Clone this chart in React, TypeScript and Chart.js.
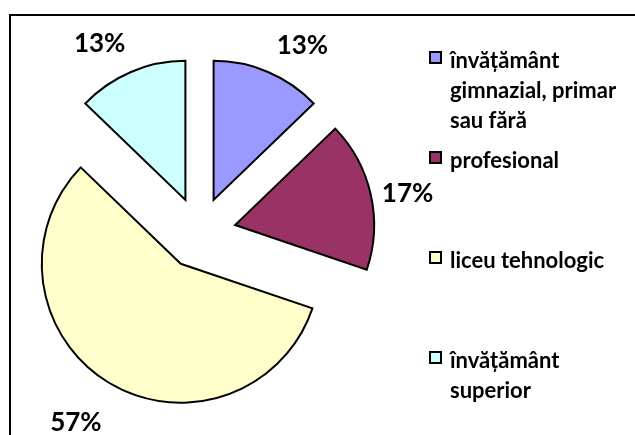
import React, { useEffect, useRef } from 'react';
import { Chart, registerables } from 'chart.js';

Chart.register(...registerables);

// ---- data ----
const categories = [
  'învățământ gimnazial, primar sau fără',
  'profesional',
  'liceu tehnologic',
  'învățământ superior',
];
const legendLines = [
  ['învățământ', 'gimnazial, primar', 'sau fără'],
  ['profesional'],
  ['liceu tehnologic'],
  ['învățământ', 'superior'],
];
const values = [12.8, 17.4, 57.0, 12.8];
const colors = ['#9999FF', '#993366', '#FFFFCC', '#CCFFFF'];

// ---- style ----
const explode = [36, 36.5, 36, 36];
const labelAngleNudge = [6.7, 1.9, 2.2, -5.6];
const labelDistance = [179, 175.5, 190, 179];

const explodePlugin = {
  id: 'explodeSlices',
  afterUpdate(chart: any) {
    const meta = chart.getDatasetMeta(0);
    meta.data.forEach((arc: any, i: number) => {
      const mid = (arc.startAngle + arc.endAngle) / 2;
      arc.x += Math.cos(mid) * explode[i];
      arc.y += Math.sin(mid) * explode[i];
    });
  },
};

const framePlugin = {
  id: 'frame',
  beforeDraw(chart: any) {
    const ctx = chart.ctx;
    ctx.save();
    ctx.fillStyle = '#ffffff';
    ctx.fillRect(0, 0, chart.width, chart.height);
    ctx.strokeStyle = '#000000';
    ctx.lineWidth = 2;
    ctx.strokeRect(10, 15, 800, 600);
    ctx.restore();
  },
};

const pctLabelPlugin = {
  id: 'pctLabels',
  afterDatasetsDraw(chart: any) {
    const ctx = chart.ctx;
    const meta = chart.getDatasetMeta(0);
    const total = values.reduce((a, b) => a + b, 0);
    ctx.save();
    ctx.font = 'bold 26px Lato';
    ctx.fillStyle = '#000000';
    ctx.textAlign = 'center';
    ctx.textBaseline = 'alphabetic';
    meta.data.forEach((arc: any, i: number) => {
      const mid = (arc.startAngle + arc.endAngle) / 2 + (labelAngleNudge[i] * Math.PI) / 180;
      const d = labelDistance[i];
      const x = arc.x + Math.cos(mid) * d;
      const y = arc.y + Math.sin(mid) * d;
      ctx.fillText(Math.round((values[i] / total) * 100) + '%', x, y + 9.3);
    });
    ctx.restore();
  },
};

export default function App() {
  const canvasRef = useRef<HTMLCanvasElement | null>(null);

  useEffect(() => {
    if (!canvasRef.current) return;
    const chart = new Chart(canvasRef.current, {
      type: 'pie',
      data: {
        labels: categories,
        datasets: [
          {
            data: values,
            backgroundColor: colors,
            borderColor: '#000000',
            borderWidth: 2,
            borderJoinStyle: 'miter',
            radius: 139,
          } as any,
        ],
      },
      options: {
        responsive: false,
        animation: false,
        layout: { padding: { left: 0, right: 236, top: 31, bottom: 0 } },
        plugins: {
          legend: { display: false },
          tooltip: { enabled: false },
        },
      },
      plugins: [framePlugin, explodePlugin, pctLabelPlugin],
    });
    return () => chart.destroy();
  }, []);

  return (
    <div
      style={{
        position: 'fixed',
        left: 0,
        top: 0,
        width: 635,
        height: 435,
        overflow: 'hidden',
        background: '#fff',
      }}
    >
      <canvas
        ref={canvasRef}
        width={635}
        height={435}
        style={{ position: 'absolute', left: 0, top: 0, display: 'block' }}
      />
      {legendLines.map((lines, i) => (
        <div key={i}>
          <div
            style={{
              position: 'absolute',
              left: 429,
              top: 51 + i * 100,
              width: 13,
              height: 13,
              boxSizing: 'border-box',
              border: '2px solid #000',
              background: colors[i],
            }}
          />
          <div
            style={{
              position: 'absolute',
              left: 450,
              top: 45 + i * 100,
              font: 'bold 22px Lato',
              lineHeight: '30px',
              color: '#000',
              whiteSpace: 'nowrap',
            }}
          >
            {lines.map((l, j) => (
              <div key={j}>{l}</div>
            ))}
          </div>
        </div>
      ))}
    </div>
  );
}
